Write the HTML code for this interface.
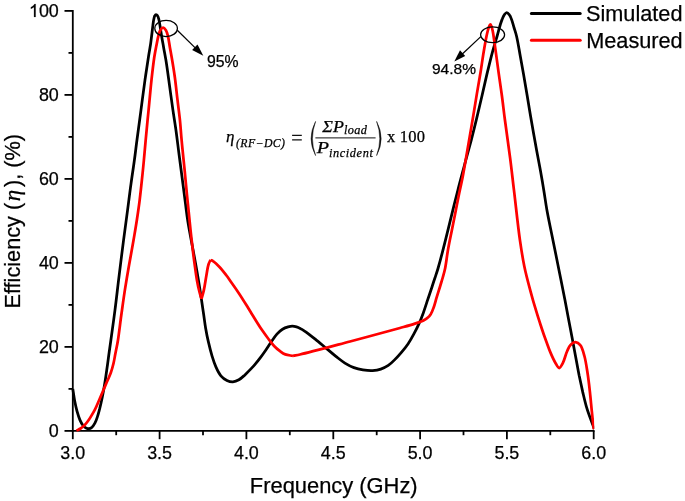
<!DOCTYPE html>
<html><head><meta charset="utf-8">
<style>
html,body{margin:0;padding:0;background:#fff;}
body{width:685px;height:501px;overflow:hidden;font-family:"Liberation Sans",sans-serif;}
svg{display:block;filter:blur(0.45px);}
text{font-family:"Liberation Sans",sans-serif;fill:#000;stroke:#000;stroke-width:0.25px;}
.ser{font-family:"Liberation Serif",serif;}
</style></head><body>
<svg width="685" height="501" viewBox="0 0 685 501">
<rect width="685" height="501" fill="#fff"/>
<!-- axes -->
<g stroke="#000" stroke-width="1.8" fill="none" stroke-linecap="butt">
<line x1="72.8" y1="10.0" x2="72.8" y2="431.79999999999995"/>
<line x1="71.89999999999999" y1="430.9" x2="594.6" y2="430.9"/>
<line x1="72.8" y1="430.9" x2="72.8" y2="439.2"/>
<line x1="116.2" y1="430.9" x2="116.2" y2="435.2"/>
<line x1="159.6" y1="430.9" x2="159.6" y2="439.2"/>
<line x1="203.0" y1="430.9" x2="203.0" y2="435.2"/>
<line x1="246.4" y1="430.9" x2="246.4" y2="439.2"/>
<line x1="289.8" y1="430.9" x2="289.8" y2="435.2"/>
<line x1="333.3" y1="430.9" x2="333.3" y2="439.2"/>
<line x1="376.7" y1="430.9" x2="376.7" y2="435.2"/>
<line x1="420.1" y1="430.9" x2="420.1" y2="439.2"/>
<line x1="463.5" y1="430.9" x2="463.5" y2="435.2"/>
<line x1="506.9" y1="430.9" x2="506.9" y2="439.2"/>
<line x1="550.3" y1="430.9" x2="550.3" y2="435.2"/>
<line x1="593.7" y1="430.9" x2="593.7" y2="439.2"/>
<line x1="64.5" y1="430.9" x2="72.8" y2="430.9"/>
<line x1="68.5" y1="388.9" x2="72.8" y2="388.9"/>
<line x1="64.5" y1="346.9" x2="72.8" y2="346.9"/>
<line x1="68.5" y1="304.9" x2="72.8" y2="304.9"/>
<line x1="64.5" y1="262.9" x2="72.8" y2="262.9"/>
<line x1="68.5" y1="220.9" x2="72.8" y2="220.9"/>
<line x1="64.5" y1="178.9" x2="72.8" y2="178.9"/>
<line x1="68.5" y1="136.9" x2="72.8" y2="136.9"/>
<line x1="64.5" y1="94.9" x2="72.8" y2="94.9"/>
<line x1="68.5" y1="52.9" x2="72.8" y2="52.9"/>
<line x1="64.5" y1="10.9" x2="72.8" y2="10.9"/>
</g>
<g font-size="17.9">
<text x="72.8" y="459.3" text-anchor="middle">3.0</text>
<text x="159.6" y="459.3" text-anchor="middle">3.5</text>
<text x="246.4" y="459.3" text-anchor="middle">4.0</text>
<text x="333.3" y="459.3" text-anchor="middle">4.5</text>
<text x="420.1" y="459.3" text-anchor="middle">5.0</text>
<text x="506.9" y="459.3" text-anchor="middle">5.5</text>
<text x="593.7" y="459.3" text-anchor="middle">6.0</text>
<text x="58.8" y="436.9" text-anchor="end">0</text>
<text x="58.8" y="352.9" text-anchor="end">20</text>
<text x="58.8" y="268.9" text-anchor="end">40</text>
<text x="58.8" y="184.9" text-anchor="end">60</text>
<text x="58.8" y="100.9" text-anchor="end">80</text>
<text x="58.8" y="16.9" text-anchor="end">00</text>
<path transform="translate(28.94,16.90) scale(0.00874,-0.00874)" d="M763,0H583V1147Q518,1085 412.5,1023Q307,961 223,930V1104Q374,1175 487,1276Q600,1377 647,1472H763Z" fill="#000" stroke="#000" stroke-width="28"/>
</g>
<!-- curves -->
<clipPath id="cp"><rect x="70" y="0" width="524.2" height="433"/></clipPath>
<path clip-path="url(#cp)" d="M72.8,389.0 C73.4,392.8 73.9,396.7 74.6,400.4 C75.3,404.0 76.1,407.7 77.0,411.1 C77.9,414.3 78.9,417.5 80.0,420.1 C80.9,422.2 81.9,424.1 83.0,425.5 C83.9,426.6 84.9,427.4 86.0,427.9 C87.0,428.4 88.0,428.8 89.0,428.7 C90.0,428.6 91.0,428.0 91.9,427.3 C93.0,426.4 94.0,424.7 94.9,423.1 C95.9,421.3 96.6,419.3 97.3,417.1 C98.2,414.6 98.9,411.6 99.7,408.7 C100.5,405.5 101.3,401.9 102.0,398.5 C102.7,395.0 103.4,391.6 104.0,388.0 C104.7,384.1 105.3,380.0 105.9,376.0 C106.5,372.0 107.0,368.0 107.6,364.0 C108.1,360.0 108.7,356.0 109.2,352.0 C109.8,348.0 110.2,344.9 110.9,340.0 C112.0,332.2 113.7,319.9 115.0,309.9 C116.3,299.9 117.3,290.6 118.6,279.9 C120.1,267.5 122.0,252.2 123.6,239.8 C125.0,229.1 126.3,219.5 127.6,209.9 C128.8,200.9 129.8,192.4 131.0,183.9 C132.1,175.8 133.4,167.6 134.4,160.0 C135.4,153.0 136.0,147.2 137.0,139.8 C138.2,130.8 139.7,119.9 141.0,109.9 C142.3,99.9 143.7,89.3 145.0,79.9 C146.2,71.5 147.6,62.6 148.6,56.0 C149.3,51.3 150.0,47.9 150.6,44.0 C151.1,40.3 151.6,36.3 152.0,33.0 C152.3,30.2 152.6,27.7 152.9,25.3 C153.2,23.1 153.4,20.9 153.8,19.2 C154.1,17.9 154.3,16.6 154.8,15.8 C155.1,15.2 155.6,14.6 156.0,14.6 C156.5,14.6 157.2,15.2 157.6,15.8 C158.2,16.6 158.4,17.8 158.8,19.2 C159.3,21.1 159.7,23.8 160.1,26.3 C160.6,29.3 161.0,32.5 161.6,35.9 C162.2,39.7 163.0,43.9 163.7,47.9 C164.4,51.9 165.1,55.3 165.9,60.0 C167.0,66.6 168.2,75.8 169.3,83.9 C170.5,92.4 171.7,101.6 172.9,109.9 C174.0,117.6 175.2,124.6 176.2,132.0 C177.2,139.3 178.0,146.4 179.0,154.0 C180.1,162.3 181.3,171.4 182.4,179.9 C183.5,188.1 184.5,196.5 185.5,203.9 C186.3,210.3 186.8,214.9 187.9,221.8 C189.4,231.2 192.2,245.1 194.0,255.0 C195.5,263.1 196.7,269.6 197.9,277.0 C199.2,284.5 200.5,293.1 201.5,299.8 C202.3,305.1 202.9,309.3 203.6,314.0 C204.3,318.7 204.8,323.3 205.6,327.9 C206.4,332.6 207.3,337.2 208.4,341.9 C209.5,346.6 210.7,351.5 212.0,355.9 C213.2,359.8 214.4,363.5 215.9,366.9 C217.3,370.1 218.9,373.5 220.9,375.8 C222.6,377.8 224.8,379.4 226.9,380.4 C228.8,381.3 230.9,381.9 232.9,381.8 C234.9,381.7 237.0,380.9 238.9,379.8 C241.0,378.6 242.9,376.7 244.9,374.9 C246.9,373.0 249.2,370.7 250.9,368.9 C252.3,367.4 253.3,366.4 254.6,364.9 C256.3,362.9 258.4,360.3 260.2,357.9 C262.1,355.4 263.9,352.8 265.7,350.2 C267.6,347.5 269.4,344.5 271.3,341.8 C273.1,339.2 274.9,336.3 276.9,334.1 C278.7,332.2 280.5,330.4 282.5,329.2 C284.3,328.1 286.3,327.4 288.1,326.9 C289.6,326.5 290.9,326.2 292.3,326.2 C293.7,326.2 295.1,326.5 296.5,326.9 C297.9,327.3 299.3,328.0 300.7,328.7 C302.2,329.4 303.5,330.3 305.0,331.3 C306.9,332.6 308.9,334.2 311.0,335.8 C313.3,337.5 315.5,339.4 318.0,341.4 C320.8,343.7 323.9,346.4 326.9,348.9 C329.9,351.4 332.9,354.0 335.9,356.4 C338.9,358.7 341.8,361.2 344.9,363.1 C347.8,364.9 350.8,366.5 353.9,367.6 C356.8,368.7 359.8,369.4 362.9,369.9 C366.1,370.4 369.5,370.8 372.6,370.6 C375.5,370.4 378.2,370.0 380.8,369.1 C383.4,368.2 386.0,366.9 388.3,365.4 C390.5,363.9 392.3,362.1 394.3,360.1 C396.5,357.9 398.8,355.4 401.0,352.8 C403.4,350.0 405.9,347.0 408.0,343.9 C410.2,340.7 412.1,337.3 413.9,333.9 C415.7,330.6 417.4,327.3 418.9,323.9 C420.5,320.4 421.9,316.7 423.3,312.9 C424.7,309.0 426.0,304.9 427.3,300.9 C428.6,296.9 430.0,292.9 431.3,289.0 C432.5,285.3 433.7,281.5 434.9,278.0 C436.0,274.7 436.9,272.2 438.0,268.5 C439.5,263.3 441.4,256.1 443.0,249.8 C444.7,243.3 446.4,236.5 448.0,229.9 C449.7,223.2 451.2,216.6 452.9,209.9 C454.5,203.3 456.1,197.0 457.9,190.0 C459.9,182.1 462.3,173.3 464.5,165.0 C466.7,156.7 469.1,148.3 471.2,140.3 C473.1,132.9 474.8,126.0 476.6,118.7 C478.4,111.2 480.2,103.4 482.0,95.8 C483.7,88.4 485.3,81.2 487.0,73.9 C488.8,66.6 490.7,58.6 492.5,51.9 C494.0,46.3 495.6,41.3 497.0,36.5 C498.2,32.4 499.2,28.3 500.2,25.0 C501.0,22.5 501.6,20.4 502.4,18.6 C503.0,17.1 503.5,15.8 504.3,14.8 C505.0,13.9 505.9,12.7 506.7,12.7 C507.6,12.7 508.7,13.9 509.4,14.8 C510.3,15.9 510.7,17.3 511.4,19.0 C512.3,21.3 513.1,24.7 514.0,27.5 C514.8,30.3 515.7,32.6 516.5,36.0 C517.7,40.8 518.8,47.8 519.9,53.9 C521.1,60.4 522.3,67.1 523.5,73.9 C524.7,81.0 525.9,88.3 527.2,95.8 C528.5,103.6 529.7,111.3 531.2,119.8 C532.9,129.5 535.0,141.5 536.7,150.8 C538.1,158.4 539.4,164.8 540.6,171.5 C541.7,177.8 542.7,183.5 543.7,189.7 C544.8,196.3 545.6,202.5 546.9,209.9 C548.5,218.9 550.9,229.9 552.9,239.9 C554.9,249.9 556.9,259.8 558.9,269.8 C560.9,279.8 563.0,290.0 564.9,299.8 C566.7,309.3 568.4,318.4 570.2,327.7 C572.0,337.1 573.9,347.5 575.5,356.0 C576.8,363.0 577.9,369.0 579.1,375.2 C580.3,381.0 581.5,386.5 582.7,391.9 C583.9,396.9 585.0,401.9 586.3,406.3 C587.4,410.2 588.7,413.7 589.9,417.1 C591.0,420.3 592.5,424.0 593.3,426.2 C593.8,427.4 594.0,428.1 594.4,429.0" fill="none" stroke="#000" stroke-width="2.75" stroke-linejoin="round" stroke-linecap="butt"/>
<path clip-path="url(#cp)" d="M76.4,430.6 C77.8,429.9 79.3,429.4 80.6,428.5 C81.9,427.7 83.0,426.6 84.2,425.5 C85.5,424.3 86.7,422.8 87.8,421.3 C89.0,419.7 90.2,417.8 91.3,415.9 C92.5,413.9 93.7,411.9 94.9,409.6 C96.3,406.9 97.6,403.6 99.0,400.5 C100.4,397.3 101.8,393.8 103.2,390.5 C104.6,387.2 106.1,383.9 107.4,380.8 C108.6,378.0 109.8,375.6 110.8,372.8 C111.8,369.9 112.7,366.9 113.4,363.8 C114.2,360.6 114.7,357.1 115.3,354.0 C115.9,351.1 116.5,348.1 117.0,345.6 C117.4,343.5 117.6,342.5 118.0,340.0 C118.8,334.8 120.1,324.0 121.2,315.8 C122.4,307.3 123.6,298.4 124.9,289.9 C126.2,281.7 127.5,274.1 128.9,265.9 C130.4,257.4 132.2,247.9 133.6,239.8 C134.8,232.7 135.9,226.5 136.9,219.8 C137.9,213.2 138.9,206.5 139.7,199.9 C140.5,193.2 141.2,186.6 141.9,179.9 C142.6,173.3 143.3,166.7 143.9,160.0 C144.5,153.3 145.0,147.2 145.7,139.8 C146.5,130.8 147.6,119.9 148.6,109.9 C149.6,99.9 150.5,89.2 151.5,79.9 C152.4,71.7 153.4,63.2 154.3,57.0 C155.0,52.7 155.6,49.6 156.3,46.0 C157.0,42.6 157.6,38.8 158.4,35.9 C159.0,33.7 159.4,31.6 160.3,30.2 C161.0,29.0 162.2,27.6 163.1,27.6 C164.0,27.6 165.1,29.0 165.9,30.2 C166.8,31.6 167.3,33.6 167.9,35.9 C168.7,39.1 169.3,44.1 170.0,47.9 C170.6,51.4 171.1,54.1 171.8,58.0 C172.7,63.3 173.9,70.4 174.8,77.0 C175.8,84.3 176.6,92.5 177.5,99.9 C178.3,106.8 179.2,113.2 179.9,119.8 C180.6,126.5 180.9,132.5 181.6,139.8 C182.4,148.8 183.7,160.9 184.6,169.9 C185.3,177.2 185.8,183.2 186.5,189.9 C187.1,196.5 187.8,203.2 188.5,209.8 C189.2,216.5 189.8,223.1 190.5,229.8 C191.2,236.5 192.1,243.9 192.8,250.0 C193.4,255.1 193.9,259.2 194.6,264.0 C195.3,269.1 196.0,274.9 196.9,279.9 C197.7,284.4 198.7,289.0 199.6,292.5 C200.2,295.0 200.9,296.7 201.5,298.8 M201.5,298.8 C202.3,295.8 203.2,293.2 203.9,289.9 C204.8,285.8 205.5,280.3 206.3,275.9 C207.0,271.9 207.6,267.4 208.5,264.5 C209.1,262.6 209.8,261.4 210.5,259.9 M210.5,259.8 C211.3,260.3 212.2,260.6 213.0,261.2 C214.0,261.9 215.0,262.7 216.0,263.6 C217.0,264.5 218.0,265.5 219.0,266.5 C220.0,267.5 220.9,268.5 222.0,269.8 C223.4,271.4 224.9,273.4 226.5,275.5 C228.3,277.9 230.1,280.7 232.1,283.5 C234.3,286.6 236.7,290.0 239.0,293.4 C241.4,297.0 244.0,301.2 246.2,304.8 C248.2,308.0 249.9,310.9 251.8,313.9 C253.7,316.9 255.5,320.0 257.4,322.9 C259.2,325.8 261.0,328.6 262.9,331.3 C264.7,333.9 266.6,336.5 268.5,339.0 C270.3,341.4 272.1,343.9 274.1,346.0 C275.9,347.9 277.8,349.5 279.7,350.9 C281.5,352.2 283.2,353.6 285.3,354.4 C287.6,355.3 290.4,355.4 293.0,355.9 M293.0,355.9 C295.3,355.4 296.6,355.3 300.0,354.5 C309.1,352.4 333.3,345.9 350.0,341.5 C366.7,337.1 388.2,331.3 400.0,328.0 C406.4,326.2 410.6,325.1 414.9,323.6 C418.3,322.5 421.6,321.4 423.9,320.2 C425.6,319.3 426.7,318.6 427.9,317.5 C429.1,316.5 430.0,315.3 430.9,313.9 C431.9,312.2 432.7,310.2 433.5,307.9 C434.6,305.0 435.5,301.3 436.5,297.9 C437.6,294.3 438.8,290.6 439.9,287.0 C440.9,283.6 442.0,280.3 442.9,277.0 C443.8,273.9 444.5,271.5 445.2,268.0 C446.2,263.0 446.9,256.0 448.0,249.8 C449.1,243.3 450.6,236.5 451.9,229.9 C453.2,223.2 454.6,216.6 455.9,209.9 C457.2,203.3 458.7,195.5 459.9,190.0 C460.7,186.0 461.3,183.8 462.1,179.8 C463.3,174.0 464.7,165.5 466.0,158.3 C467.3,151.1 468.5,143.9 469.7,136.7 C470.9,129.5 472.2,122.3 473.4,115.1 C474.6,107.9 475.7,100.8 476.9,93.6 C478.1,86.4 479.4,79.2 480.6,71.9 C481.8,64.6 482.8,56.6 484.0,49.9 C485.0,44.2 486.0,38.2 487.0,34.0 C487.7,31.1 488.3,28.5 489.0,26.8 C489.4,25.7 490.0,24.4 490.4,24.4 C490.8,24.4 491.2,25.7 491.6,26.6 C492.1,28.0 492.4,29.7 492.9,32.0 C493.7,36.2 494.6,43.6 495.5,49.9 C496.5,56.9 497.5,64.4 498.5,71.9 C499.6,79.7 500.8,87.8 501.9,95.8 C503.0,103.8 503.7,110.8 504.9,119.8 C506.4,131.2 508.6,146.4 510.2,158.6 C511.6,169.5 512.5,178.1 513.9,189.7 C515.7,204.4 517.9,225.8 519.9,239.9 C521.4,250.3 522.6,258.1 524.4,266.8 C526.1,275.1 528.3,283.1 530.4,290.8 C532.3,298.0 534.4,305.2 536.4,311.7 C538.1,317.4 539.8,322.5 541.5,327.7 C543.1,332.6 544.8,337.4 546.4,341.8 C547.8,345.6 548.9,348.9 550.4,352.4 C551.9,356.0 553.9,360.4 555.6,363.2 C556.8,365.2 558.0,368.0 559.2,368.0 C560.4,368.0 561.7,365.3 562.8,363.2 C564.4,360.2 565.6,354.5 567.1,351.2 C568.3,348.6 569.1,346.2 570.7,344.7 C572.0,343.4 573.9,342.0 575.5,342.1 C577.1,342.2 579.0,343.5 580.3,345.2 C582.2,347.5 583.3,351.9 584.4,356.0 C585.8,360.9 586.6,367.0 587.5,372.8 C588.5,378.9 589.2,385.5 589.9,391.9 C590.6,398.3 591.2,405.2 591.8,411.1 C592.3,416.2 593.0,422.3 593.4,425.5 C593.6,427.1 593.7,428.0 593.9,429.2" fill="none" stroke="#f00" stroke-width="2.75" stroke-linejoin="round" stroke-linecap="butt"/>
<!-- legend -->
<line x1="531.4" y1="13.5" x2="580.2" y2="13.5" stroke="#000" stroke-width="3" stroke-linecap="round"/>
<line x1="531.4" y1="40.3" x2="580.2" y2="40.3" stroke="#f00" stroke-width="3" stroke-linecap="round"/>
<text x="586" y="21.1" font-size="21.7">Simulated</text>
<text x="586.2" y="47.8" font-size="21.7">Measured</text>
<!-- annotations -->
<g stroke="#000" stroke-width="1.25" fill="none">
<ellipse cx="166.1" cy="28.4" rx="11.3" ry="8.1"/>
<line x1="177.3" y1="30.3" x2="196" y2="48.6"/>
<ellipse cx="492.6" cy="34.8" rx="12" ry="7.9"/>
<line x1="480.8" y1="36.6" x2="461" y2="55.2"/>
</g>
<polygon points="203.3,55.7 192.1,49.9 197.5,44.5" fill="#000"/>
<polygon points="454.3,61.4 460.0,50.3 465.2,55.9" fill="#000"/>
<text x="207" y="67" font-size="15.8">95%</text>
<text x="432" y="74.4" font-size="15.5">94.8%</text>
<!-- axis titles -->
<text x="249.8" y="492.6" font-size="21.9">Frequency (GHz)</text>
<text transform="translate(20,308.5) rotate(-90)" font-size="21.7">Efficiency (<tspan class="ser" font-style="italic" font-size="23" dx="1.6">η</tspan><tspan dx="2.8">)</tspan>, (%)</text>
<!-- formula -->
<g class="ser" font-style="italic" fill="#111" stroke="#111" stroke-width="0.3">
<text x="226" y="142.4" font-size="17" class="ser">η</text>
<text x="236" y="147.3" font-size="11.8" class="ser" textLength="49" lengthAdjust="spacing">(RF−DC)</text>
<path d="M292.1,135.4H301.8M292.1,139.9H301.8" stroke="#111" stroke-width="1.2" fill="none"/>
<text x="322.3" y="132.4" font-size="16.5" class="ser" textLength="21.6" lengthAdjust="spacingAndGlyphs">ΣP</text>
<text x="344" y="133.7" font-size="12.3" class="ser" textLength="22.8" lengthAdjust="spacing">load</text>
<text x="316.8" y="152.7" font-size="16.5" class="ser" textLength="12.3" lengthAdjust="spacingAndGlyphs">P</text>
<text x="328.9" y="156.5" font-size="12.3" class="ser" textLength="44" lengthAdjust="spacing">incident</text>
<text x="387" y="142.3" font-size="16.5" class="ser" font-style="normal" textLength="38" lengthAdjust="spacing">x 100</text>
</g>
<line x1="315.4" y1="137.9" x2="375.6" y2="137.9" stroke="#111" stroke-width="1"/>
<path d="M315.6,121.4 Q306.5,138.5 315.6,155.6 Q309.3,138.5 315.6,121.4 Z" fill="#111" stroke="#111" stroke-width="0.5"/>
<path d="M376.6,121.4 Q385.7,138.5 376.6,155.6 Q382.9,138.5 376.6,121.4 Z" fill="#111" stroke="#111" stroke-width="0.5"/>
</svg>
</body></html>
